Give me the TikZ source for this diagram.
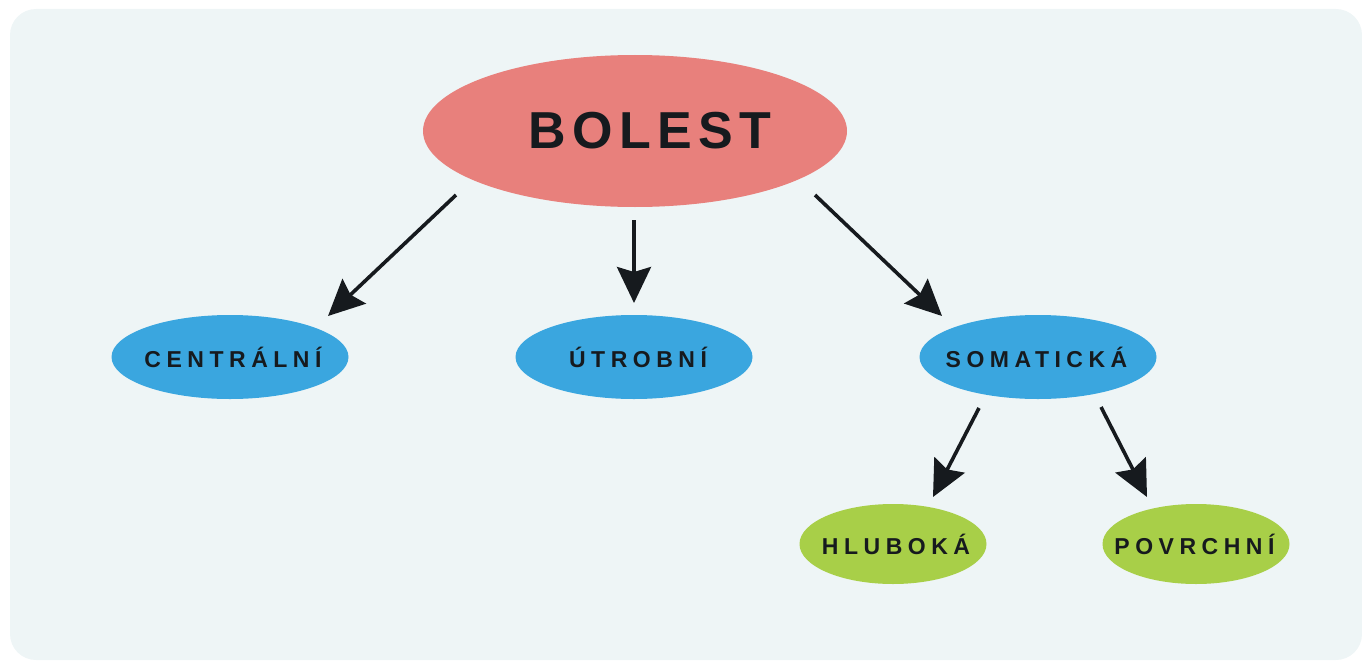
\documentclass[tikz,border=0pt]{standalone}
\usepackage{fontspec}
\setmainfont{Liberation Sans}
\usetikzlibrary{arrows.meta,shapes.geometric}

\definecolor{panel}{HTML}{EEF5F6}
\definecolor{rootfill}{HTML}{E8807C}
\definecolor{midfill}{HTML}{3AA6DF}
\definecolor{leaffill}{HTML}{A8CF48}
\definecolor{ink}{HTML}{161A1E}

% tracked bold caps, shifted sideways by #1 inside a zero-width box
\newcommand{\tracked}[3]{\makebox[0pt][c]{\hspace*{#1}\addfontfeature{LetterSpace=#2}#3}}

\begin{document}
\begin{tikzpicture}[x=1pt,y=-1pt,
  bubble/.style={ellipse, inner sep=0pt, text=ink, font=\bfseries},
  rootbub/.style={bubble, fill=rootfill, minimum width=424pt, minimum height=152pt, font=\bfseries\fontsize{52}{52}\selectfont},
  midbub/.style={bubble, fill=midfill, minimum width=237pt, minimum height=84pt, font=\bfseries\fontsize{23}{23}\selectfont},
  leafbub/.style={bubble, fill=leaffill, minimum width=187pt, minimum height=80pt, font=\bfseries\fontsize{23}{23}\selectfont},
  arr/.style={draw=ink, line width=3.6pt, -{Stealth[length=36pt, width=34pt, inset=5pt]}}
]
\useasboundingbox (0,0) rectangle (1362,661);
\fill[panel, rounded corners=26pt] (10,9) rectangle (1362,660);

\node[rootbub] (bolest) at (635,131) {\tracked{30pt}{12}{BOLEST}};
\node[midbub] (centralni) at (230,357) {\tracked{6pt}{24}{CENTRÁLNÍ}};
\node[midbub] (utrobni) at (634,357) {\tracked{8pt}{24}{ÚTROBNÍ}};
\node[midbub] (somaticka) at (1038,357) {\tracked{-3pt}{24}{SOMATICKÁ}};
\node[leafbub] (hluboka) at (893,544) {\tracked{6pt}{24}{HLUBOKÁ}};
\node[leafbub] (povrchni) at (1196,544) {\tracked{-3pt}{24}{POVRCHNÍ}};

\draw[arr] ([shift={(-179,64)}]bolest.center) -- ([shift={(98,-41)}]centralni.center);
\draw[arr] ([shift={(-1,89)}]bolest.center) -- ([shift={(0,-54)}]utrobni.center);
\draw[arr] ([shift={(180,64)}]bolest.center) -- ([shift={(-96,-41)}]somaticka.center);
\draw[arr] ([shift={(-59,51)}]somaticka.center) -- ([shift={(40,-47)}]hluboka.center);
\draw[arr] ([shift={(63,50)}]somaticka.center) -- ([shift={(-49,-47)}]povrchni.center);
\end{tikzpicture}
\end{document}
